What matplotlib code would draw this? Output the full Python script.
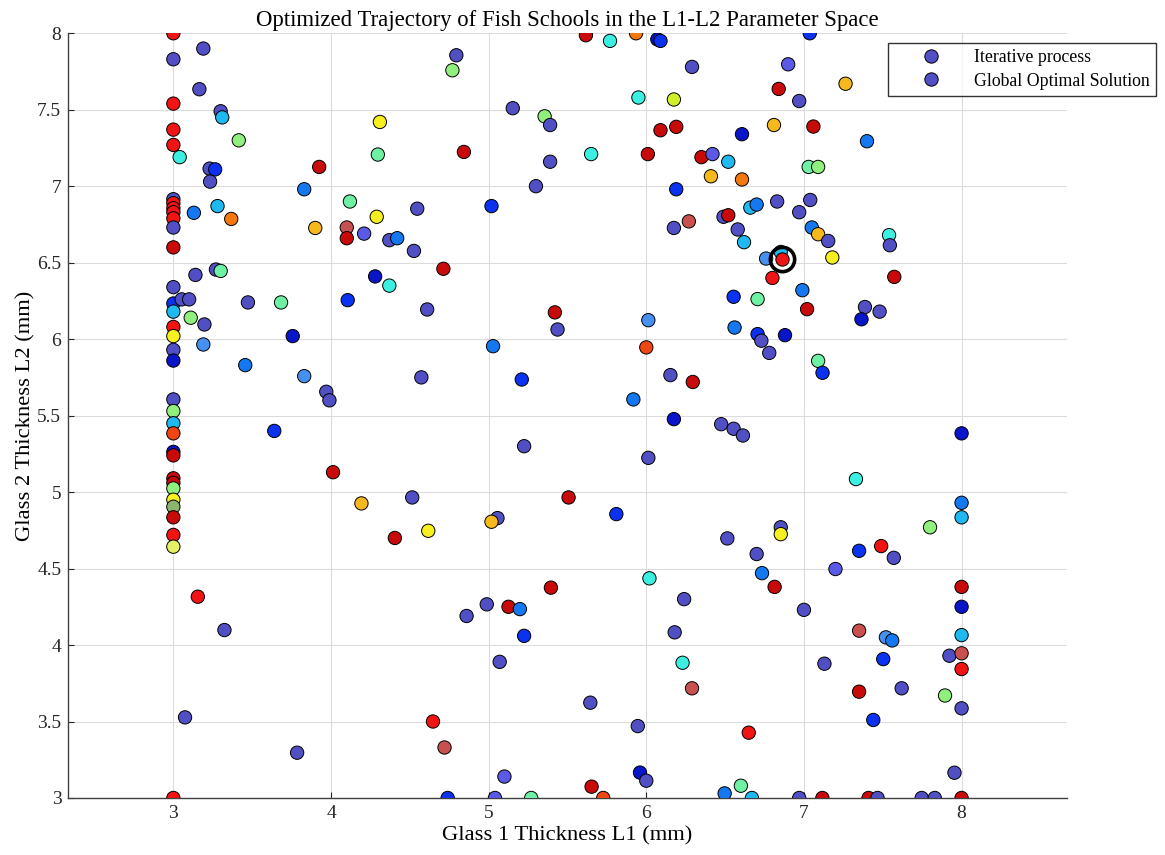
import matplotlib
matplotlib.use('Agg')
import matplotlib.pyplot as plt
from matplotlib.lines import Line2D

plt.rcParams['font.family'] = ['Liberation Serif', 'DejaVu Serif']

# colour codes used in the data
palette = {
    'S': '#5050C4', 'P': '#5A5AE6', 'B': '#0A32F0', 'D': '#0A14C8',
    'L': '#1478F0', 'M': '#4690F0', 'C': '#1EB9F0', 'T': '#3CF0E1',
    'A': '#6EF0A5', 'G': '#91F07D', 'Z': '#D2F028', 'Y': '#F5F01E',
    'O': '#F5B91E', 'N': '#F5780F', 'Q': '#F04614', 'R': '#F01414',
    'K': '#C80A0A', 'I': '#C85050', 'V': '#8CB46E', 'W': '#E6F064',
}

# Glass 1 thickness L1 (mm)
l1 = ([3.0] * 34 +
      [3.19, 3.165, 3.30, 3.31, 3.415, 3.04, 3.23, 3.265, 3.233, 3.83, 3.925, 4.31, 4.297, 4.12,
       4.29, 3.90, 4.10, 4.10, 4.21, 4.37, 4.42, 3.13, 3.28, 3.367, 3.14, 3.27, 3.30, 4.28] +
      [5.617, 5.77, 5.935, 6.07, 6.09, 6.29, 5.95, 6.175, 4.795, 4.77, 5.153, 5.355, 5.39, 4.843,
       5.65, 5.39, 5.30, 5.018, 6.09, 6.19, 6.01, 6.35, 6.42, 6.52, 6.41, 6.19, 6.27, 6.175,
       6.49, 6.52, 4.547, 4.526, 4.713] +
      [7.037, 6.90, 6.84, 7.264, 6.97, 6.81, 7.06, 6.607, 7.40, 7.03, 7.09, 6.607, 6.58, 6.62,
       6.66, 6.70, 6.83, 7.04, 6.97, 7.05, 7.09, 7.154, 7.54, 7.545, 7.18, 6.76, 6.853, 6.80, 7.573] +
      [6.554, 6.706, 6.99, 7.02, 7.387, 7.48, 7.365, 6.013, 6.56, 6.706, 6.73, 6.88, 6.78, 6.0,
       7.09, 7.118] +
      [6.475, 6.554, 6.613, 8.0, 7.33, 8.0, 8.0, 7.80, 6.853, 6.853, 6.514] +
      [6.70, 7.35, 7.49, 7.57, 7.20, 6.734, 6.814, 8.0, 8.0, 7.0, 7.35, 7.52, 7.56, 8.0, 7.923,
       8.0, 8.0, 7.13, 7.503, 7.62, 7.35, 7.895, 8.0, 7.44, 6.65, 7.955, 6.60, 6.497, 6.67, 6.97,
       7.117, 7.41, 7.467, 7.747, 7.83, 8.0] +
      [6.02, 6.24, 6.18, 6.23, 6.29, 5.395, 4.988, 4.86, 5.126, 5.198, 5.225, 5.07, 5.645, 5.946,
       4.647, 4.72, 5.10, 5.96, 6.0, 5.653, 4.74, 5.04, 5.27, 5.727] +
      [3.155, 3.324, 3.074, 3.785] +
      [3.053, 3.10, 3.11, 3.197, 3.19, 3.473, 3.683, 4.106, 4.37, 3.757, 3.456, 3.83, 3.97, 3.99,
       3.64, 4.013, 4.193, 4.405] +
      [4.61, 5.42, 5.437, 5.028, 4.573, 5.21, 6.153, 6.295, 5.918, 6.175, 5.225, 6.013, 4.515,
       5.507, 5.81, 5.056, 5.018, 4.617])

# Glass 2 thickness L2 (mm)
l2 = ([8.00, 7.83, 7.54, 7.37, 7.27, 6.915, 6.889, 6.856, 6.83, 6.79, 6.73, 6.60, 6.34, 6.233,
       6.18, 6.08, 6.02, 5.93, 5.86, 5.606, 5.53, 5.45, 5.384, 5.263, 5.24, 5.09, 5.06, 5.024,
       4.95, 4.904, 4.835, 4.72, 4.643, 3.00] +
      [7.90, 7.634, 7.49, 7.45, 7.30, 7.19, 7.115, 7.11, 7.03, 6.98, 7.126, 7.42, 7.207, 6.90,
       6.80, 6.727, 6.73, 6.66, 6.69, 6.647, 6.66, 6.826, 6.87, 6.786, 6.42, 6.455, 6.446, 6.41] +
      [7.987, 7.95, 8.0, 7.96, 7.95, 7.78, 7.58, 7.567, 7.856, 7.758, 7.51, 7.457, 7.40, 7.224,
       7.21, 7.16, 7.0, 6.87, 7.366, 7.388, 7.21, 7.19, 7.21, 7.16, 7.065, 6.98, 6.77, 6.727,
       6.80, 6.81, 6.853, 6.577, 6.46] +
      [8.0, 7.797, 7.636, 7.67, 7.557, 7.40, 7.39, 7.34, 7.294, 7.126, 7.126, 7.044, 6.717, 6.634,
       6.86, 6.88, 6.90, 6.91, 6.83, 6.73, 6.686, 6.642, 6.68, 6.614, 6.534, 6.527, 6.57, 6.40, 6.407] +
      [6.277, 6.262, 6.32, 6.196, 6.21, 6.18, 6.13, 6.124, 6.076, 6.033, 5.99, 6.026, 5.91, 5.946,
       5.858, 5.78] +
      [5.444, 5.414, 5.37, 5.384, 5.085, 4.93, 4.835, 4.77, 4.77, 4.725, 4.697] +
      [4.595, 4.616, 4.647, 4.57, 4.497, 4.47, 4.38, 4.38, 4.25, 4.23, 4.094, 4.05, 4.03, 4.065,
       3.93, 3.946, 3.843, 3.878, 3.908, 3.717, 3.695, 3.67, 3.586, 3.51, 3.427, 3.165, 3.08,
       3.03, 3.0, 3.0, 3.0, 3.0, 3.0, 3.0, 3.0, 3.0] +
      [4.436, 4.30, 4.083, 3.884, 3.717, 4.375, 4.266, 4.19, 4.25, 4.235, 4.06, 3.89, 3.623, 3.47,
       3.50, 3.33, 3.14, 3.166, 3.113, 3.074, 3.0, 3.0, 3.0, 3.0] +
      [4.316, 4.098, 3.527, 3.296] +
      [6.26, 6.26, 6.14, 6.096, 5.965, 6.24, 6.24, 6.255, 6.35, 6.02, 5.83, 5.758, 5.656, 5.60,
       5.40, 5.13, 4.926, 4.70] +
      [6.194, 6.175, 6.063, 5.954, 5.75, 5.736, 5.765, 5.72, 5.606, 5.477, 5.30, 5.224, 4.965,
       4.965, 4.856, 4.83, 4.806, 4.747])

# colour code of every point
codes = list(
    "RSRRRSRRRRSKSBCRYSDSGCQDKKKGYVKRWR"
    "SSSCGTSBSLKYAAYOIKPSLLCNSSAD"
    "KTNDBSTZSGSGSKTSSBKKKKPCOBISSKSSK"
    "BPKOSOKDLAGNSCCLSSSLOSTSYMCRK"
    "BALKSSDMLBSDSQAB"
    "SSSDTLCGSYS"
    "SBRSPLKKDSIMLCSIRSBSKGSBRSALCSKKSSSK"
    "TSSTIKSSKLBSSSRIPDSKBPAQ"
    "RSSS"
    "SSGSMSABTDLMSSBKOK"
    "SKSLSBSKLDSSSKBSOY")

best_l1 = [6.86]
best_l2 = [6.527]

x_ticks = [3, 4, 5, 6, 7, 8]
y_ticks = [3, 3.5, 4, 4.5, 5, 5.5, 6, 6.5, 7, 7.5, 8]

fig = plt.figure(figsize=(11.65, 8.55), dpi=100)
ax = fig.add_axes([0.0586, 0.0667, 0.857, 0.8944])

colors = [palette[c] for c in codes]
ax.scatter(l1, l2, s=92, c=colors, edgecolors='black', linewidths=0.7, zorder=3)
ax.scatter(best_l1, best_l2, s=92, c=palette['R'], edgecolors='black', linewidths=0.7, zorder=4)
ax.plot(best_l1, best_l2, 'o', ms=17.5, mfc='none', mec='black', mew=2.6, zorder=5)

ax.set_xlim(2.3333, 8.6667)
ax.set_ylim(3, 8)
ax.set_xticks(x_ticks)
ax.set_xticklabels([str(t) for t in x_ticks])
ax.set_yticks(y_ticks)
ax.set_yticklabels([('%g' % t) for t in y_ticks])
ax.grid(True, color='#dcdcdc', linewidth=0.8)
ax.set_axisbelow(True)
for side in ('top', 'right'):
    ax.spines[side].set_visible(False)
for side in ('left', 'bottom'):
    ax.spines[side].set_color('#404040')
    ax.spines[side].set_linewidth(1.0)
ax.tick_params(direction='in', length=4, width=0.8, labelsize=14, colors='#262626',
               top=False, right=False, pad=5)

ax.set_title('Optimized Trajectory of Fish Schools in the L1-L2 Parameter Space',
             fontsize=16.4, pad=5)
ax.set_xlabel('Glass 1 Thickness L1 (mm)', fontsize=16.2, labelpad=3)
ax.set_ylabel('Glass 2 Thickness L2 (mm)', fontsize=16.2, labelpad=1)

handles = [
    Line2D([], [], ls='none', marker='o', ms=9.6, mfc=palette['S'], mec='black', mew=0.7),
    Line2D([], [], ls='none', marker='o', ms=9.6, mfc=palette['S'], mec='black', mew=0.7),
]
leg = fig.legend(handles, ['Iterative process', 'Global Optimal Solution'],
                 loc='upper left', bbox_to_anchor=(888 / 1165, 1 - 42.7 / 855),
                 fontsize=12.8, frameon=True, fancybox=False, borderpad=0.35,
                 handlelength=4.1, handletextpad=0.4, labelspacing=0.38,
                 borderaxespad=0)
leg.get_frame().set_edgecolor('black')
leg.get_frame().set_linewidth(1.0)

fig.savefig('out.png', dpi=100)
